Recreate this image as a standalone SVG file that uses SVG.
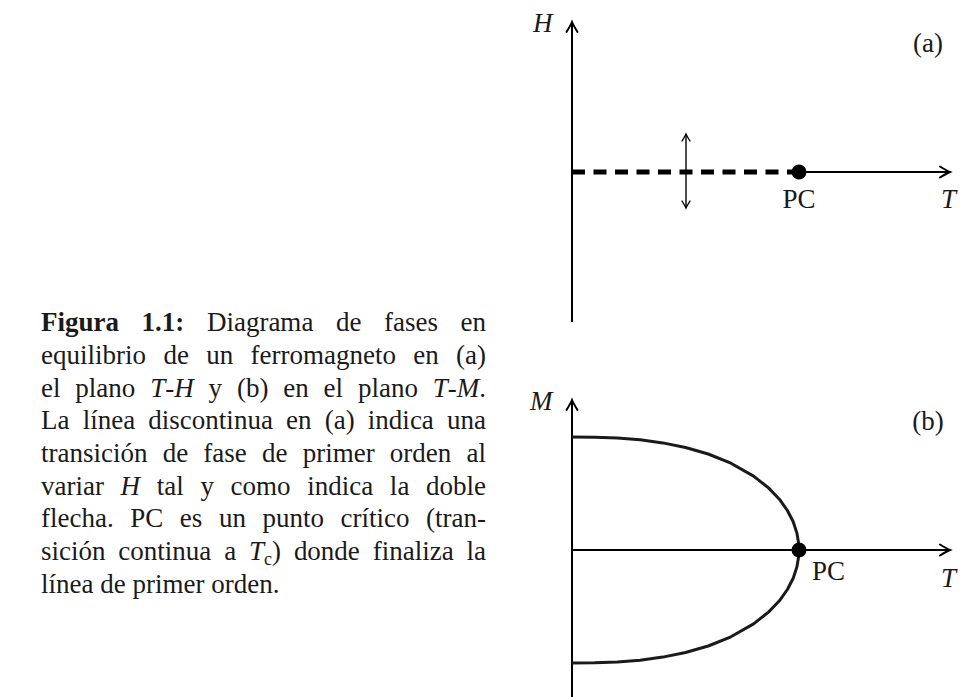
<svg xmlns="http://www.w3.org/2000/svg" width="963" height="697" viewBox="0 0 963 697">
<style>
.cap{font-family:"Liberation Serif","DejaVu Serif",serif;font-size:27px;fill:#1a1a1a}
.b{font-weight:bold}
.i{font-style:italic}
.lbl{font-family:"Liberation Serif","DejaVu Serif",serif;font-size:27px;fill:#1a1a1a}
.axis{stroke:#000;stroke-width:2;fill:none}
.thin{stroke:#000;stroke-width:1.4;fill:none}
.dash{stroke:#000;stroke-width:5;stroke-dasharray:13 8.5;fill:none}
.curve{stroke:#1a1a1a;stroke-width:3;fill:none;stroke-linejoin:round}
</style>
<defs>
<marker id="ah" markerUnits="userSpaceOnUse" markerWidth="14" markerHeight="14" viewBox="-12 -7 14 14" refX="0" refY="0" orient="auto-start-reverse" overflow="visible">
<path d="M-10,-5.5 Q-3,-1.2 0,0 Q-3,1.2 -10,5.5" fill="none" stroke="#000" stroke-width="2" stroke-linecap="round"/>
</marker>
<marker id="ahs" markerUnits="userSpaceOnUse" markerWidth="10" markerHeight="10" viewBox="-9 -5 10 10" refX="0" refY="0" orient="auto-start-reverse" overflow="visible">
<path d="M-7,-4 Q-2,-0.9 0,0 Q-2,0.9 -7,4" fill="none" stroke="#000" stroke-width="1.4" stroke-linecap="round"/>
</marker>
</defs>

<g id="caption">
<text class="cap" x="41" y="331" word-spacing="15.8" textLength="445" lengthAdjust="spacing"><tspan class="b">Figura 1.1:</tspan> Diagrama de fases en</text>
<text class="cap" x="41" y="364" word-spacing="10.5" textLength="445" lengthAdjust="spacing">equilibrio de un ferromagneto en (a)</text>
<text class="cap" x="41" y="397" word-spacing="8.1" textLength="445" lengthAdjust="spacing">el plano <tspan class="i">T</tspan>-<tspan class="i">H</tspan> y (b) en el plano <tspan class="i">T</tspan>-<tspan class="i">M</tspan>.</text>
<text class="cap" x="41" y="429" word-spacing="6.4" textLength="445" lengthAdjust="spacing">La línea discontinua en (a) indica una</text>
<text class="cap" x="41" y="462" word-spacing="8.4" textLength="445" lengthAdjust="spacing">transición de fase de primer orden al</text>
<text class="cap" x="41" y="495" word-spacing="9.9" textLength="445" lengthAdjust="spacing">variar <tspan class="i">H</tspan> tal y como indica la doble</text>
<text class="cap" x="41" y="527" word-spacing="9.8" textLength="445" lengthAdjust="spacing">flecha. PC es un punto crítico (tran-</text>
<text class="cap" x="41" y="560" word-spacing="6.1" textLength="445" lengthAdjust="spacing">sición continua a <tspan class="i">T</tspan><tspan dy="5" font-size="18">c</tspan><tspan dy="-5">)</tspan> donde finaliza la</text>
<text class="cap" x="41" y="593">línea de primer orden.</text>
</g>

<g id="panel-a">
<g id="axes-a">
<line class="axis" x1="572" y1="322" x2="572" y2="22" marker-end="url(#ah)"/>
<line class="axis" x1="799" y1="172" x2="950" y2="172" marker-end="url(#ah)"/>
</g>
<g id="first-order-line">
<line class="dash" x1="572" y1="172" x2="799" y2="172"/>
</g>
<g id="double-arrow">
<line class="thin" x1="686" y1="134" x2="686" y2="208" marker-start="url(#ahs)" marker-end="url(#ahs)"/>
</g>
<g id="pc-a">
<circle cx="799" cy="172" r="7.5" fill="#000"/>
<text class="lbl" x="799" y="208" text-anchor="middle">PC</text>
</g>
<text class="lbl i" x="533" y="32">H</text>
<text class="lbl i" x="941" y="208">T</text>
<text class="lbl" x="928" y="52" text-anchor="middle">(a)</text>
</g>

<g id="panel-b">
<g id="axes-b">
<line class="axis" x1="572" y1="697" x2="572" y2="400" marker-end="url(#ah)"/>
<line class="axis" x1="572" y1="550" x2="950" y2="550" marker-end="url(#ah)"/>
</g>
<g id="magnetization-curve">
<polyline class="curve" points="572,437 594.7,437.2 617.4,438 640.1,439.8 662.8,442.9 685.5,447.5 708.2,454 730.9,463.2 753.6,476.1 768.5,487.9 779.4,499.2 787.4,510.5 793.2,521.8 796.9,533.1 798.8,544.4 799,550 798.8,555.6 796.9,566.9 793.2,578.2 787.4,589.5 779.4,600.8 768.5,612.1 753.6,623.9 730.9,636.8 708.2,646 685.5,652.5 662.8,657.1 640.1,660.2 617.4,662 594.7,662.8 572,663"/>
</g>
<g id="pc-b">
<circle cx="799" cy="550" r="7.5" fill="#000"/>
<text class="lbl" x="812" y="580">PC</text>
</g>
<text class="lbl i" x="530" y="410">M</text>
<text class="lbl i" x="941" y="587">T</text>
<text class="lbl" x="928" y="430" text-anchor="middle">(b)</text>
</g>
</svg>
